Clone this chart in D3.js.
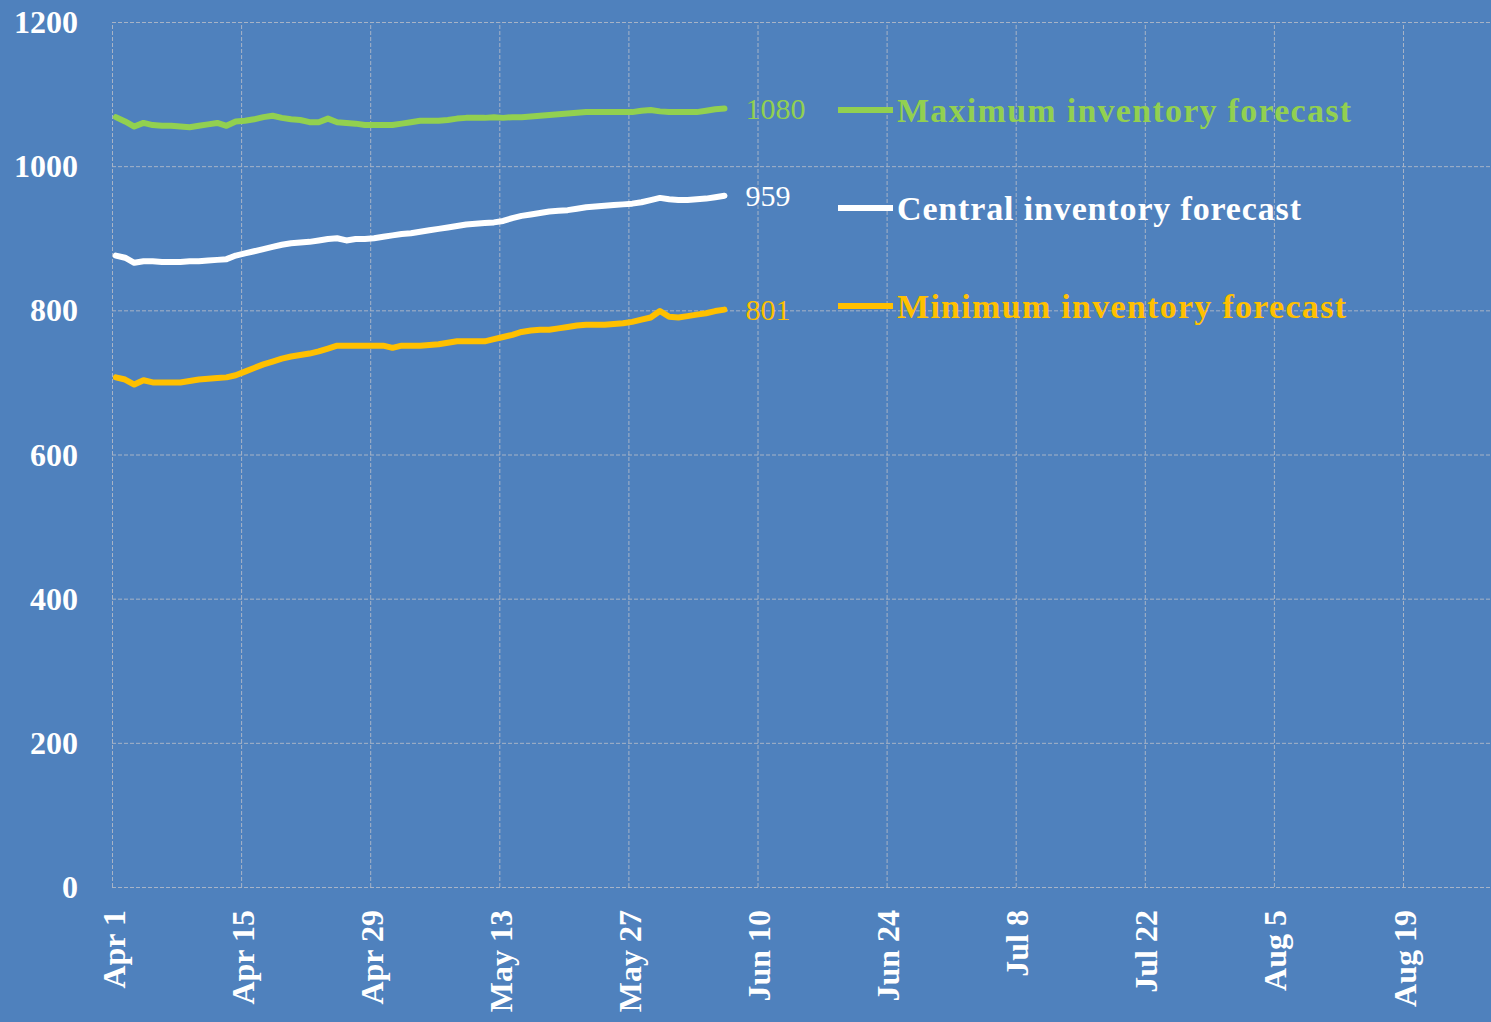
<!DOCTYPE html>
<html>
<head>
<meta charset="UTF-8">
<title>Inventory forecast</title>
<script src="https://cdn.jsdelivr.net/npm/d3@7"></script>
<style>
body { margin: 0; background: #4f81bd; }
svg { display: block; }
.grid line { stroke: #a7b3c6; stroke-width: 1; stroke-dasharray: 4,2; }
.grid path { display: none; }
.tick text { fill: #fff; font-family: "Liberation Serif", serif; font-weight: bold; font-size: 32px; }
</style>
</head>
<body>
<svg id="chart" width="1491" height="1022"></svg>
<script>
// daily forecasts, starting Apr 1
var seriesNames = ["Maximum inventory forecast", "Central inventory forecast", "Minimum inventory forecast"];
var maxForecast = [1068,1062,1055,1060,1057,1056,1056,1055,1054,1056,1058,1060,1056,1062,1063,1065,1068,1070,1067,1065,
  1064,1061,1061,1066,1061,1060,1059,1057,1057,1057,1057,1059,1061,1063,1063,1063,1064,1066,1067,1067,
  1067,1068,1067,1068,1068,1069,1070,1071,1072,1073,1074,1075,1075,1075,1075,1075,1075,1077,1078,1076,
  1075,1075,1075,1075,1077,1079,1080];
var centralForecast = [876,873,866,868,868,867,867,867,868,868,869,870,871,876,879,882,885,888,891,893,
  894,895,897,899,900,897,899,899,900,902,904,906,907,909,911,913,915,917,919,920,
  921,922,924,928,931,933,935,937,938,939,941,943,944,945,946,947,948,950,953,956,
  954,953,953,954,955,957,959];
var minForecast = [707,704,697,703,700,700,700,700,702,704,705,706,707,710,715,720,725,729,733,736,
  738,740,743,747,751,751,751,751,751,751,748,751,751,751,752,753,755,757,757,757,
  757,760,763,766,770,772,773,773,775,777,779,780,780,780,781,782,784,787,790,799,
  791,790,792,794,796,799,801];
var yTicks = [0, 200, 400, 600, 800, 1000, 1200];
var xTickCount = 11;   // Apr 1, Apr 15, ... Aug 19, every 14 days

var colors = ["#92d050", "#ffffff", "#ffc000"];
var series = [maxForecast, centralForecast, minForecast];

var svg = d3.select("#chart");
var plotLeft = 112, plotTop = 22, plotBottom = 887;

var start = new Date(2020, 3, 1);
var pointStart = new Date(2020, 3, 1, 10);
var x = d3.scaleTime()
  .domain([start, d3.timeDay.offset(start, 140)])
  .range([plotLeft, 1403]);
var y = d3.scaleLinear().domain([0, 1200]).range([plotBottom, plotTop]);

var xTicks = d3.range(xTickCount).map(function(i) { return d3.timeDay.offset(start, 14 * i); });

// horizontal grid + y labels
svg.append("g")
  .attr("class", "grid")
  .attr("transform", "translate(" + plotLeft + ",0)")
  .call(d3.axisLeft(y).tickValues(yTicks).tickSize(-(1491 - plotLeft)).tickPadding(34).tickFormat(d3.format("d")))
  .selectAll("text").attr("dy", "0.33em");

// vertical grid + rotated date labels
var xg = svg.append("g")
  .attr("class", "grid")
  .attr("transform", "translate(0," + plotBottom + ")")
  .call(d3.axisBottom(x).tickValues(xTicks).tickSize(-(plotBottom - plotTop)).tickFormat(d3.timeFormat("%b %-d")));
xg.selectAll("text")
  .attr("transform", "rotate(-90)")
  .attr("text-anchor", "end")
  .attr("x", -23)
  .attr("y", 12)
  .attr("dy", 0);

var line = d3.line()
  .x(function(d, i) { return x(d3.timeDay.offset(pointStart, i)); })
  .y(function(d) { return y(d); });

series.forEach(function(s, k) {
  svg.append("path")
    .attr("d", line(s))
    .attr("fill", "none")
    .attr("stroke", colors[k])
    .attr("stroke-width", 6)
    .attr("stroke-linejoin", "round")
    .attr("stroke-linecap", "round");

  var last = s.length - 1;
  svg.append("text")
    .attr("x", x(d3.timeDay.offset(pointStart, last)) + 21)
    .attr("y", y(s[last]))
    .attr("dy", "0.34em")
    .attr("fill", colors[k])
    .style("font-family", "Liberation Serif, serif")
    .style("font-size", "30px")
    .text(s[last]);
});

// legend
var legendWidths = [454, 404, 449];
var legend = svg.append("g").attr("transform", "translate(838,110)");
seriesNames.forEach(function(name, k) {
  var g = legend.append("g").attr("transform", "translate(0," + (k * 98) + ")");
  g.append("line")
    .attr("x1", 0).attr("x2", 55)
    .attr("stroke", colors[k])
    .attr("stroke-width", 6);
  g.append("text")
    .attr("x", 59)
    .attr("dy", "0.34em")
    .attr("fill", colors[k])
    .attr("textLength", legendWidths[k])
    .attr("lengthAdjust", "spacing")
    .style("font-family", "Liberation Serif, serif")
    .style("font-weight", "bold")
    .style("font-size", "34px")
    .text(name);
});
</script>
</body>
</html>
